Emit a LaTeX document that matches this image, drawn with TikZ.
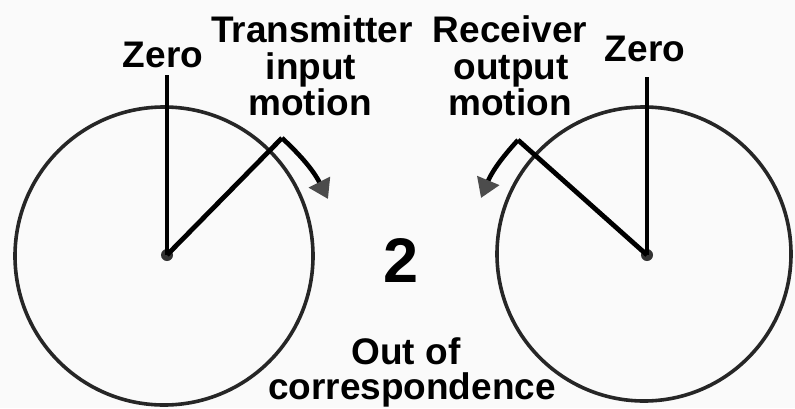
\documentclass[tikz,border=0pt]{standalone}
\usepackage{fontspec}
\setmainfont{Liberation Sans}
\usetikzlibrary{arrows.meta}
\begin{document}
\begin{tikzpicture}[x=1pt,y=-1pt,
  lbl/.style={font=\bfseries\fontsize{37}{37}\selectfont, anchor=base, inner sep=0pt},
  big/.style={font=\bfseries\fontsize{63}{63}\selectfont, inner sep=0pt},
  dial/.style={line width=3.6pt, draw=black!85},
  hand/.style={line width=4.8pt, line join=miter, line cap=butt},
  hub/.style={circle, fill=black!80, minimum size=12pt, inner sep=0pt},
  motion/.style={line width=4.6pt, -{Triangle[length=19pt,width=23pt,color=black!70]}}]
\useasboundingbox[fill=black!2] (0,0) rectangle (795,408);

% dials
\draw[dial] (164,256) circle[radius=149];
\draw[dial] (644,254) circle[radius=147];

% hubs
\node[hub] (hubL) at (167,255) {};
\node[hub] (hubR) at (647,255) {};

% coordinates
\coordinate (zeroLtop) at (167,75);
\coordinate (zeroRtop) at (647,77);
\coordinate (cornL) at (282,138);
\coordinate (tipL) at (328,199);
\coordinate (cornR) at (518,140);
\coordinate (tipR) at (481,198);

% zero lines
\draw[hand] (hubL.center) -- (zeroLtop);
\draw[hand] (hubR.center) -- (zeroRtop);

% motion hands
\draw[hand] (hubL.center) -- (cornL);
\draw[motion] (cornL) to[bend left=10] (tipL);
\draw[hand] (hubR.center) -- (cornR);
\draw[motion] (cornR) to[bend right=10] (tipR);

% labels
\node[lbl] (zL) at (163,67) {Zero};
\node[lbl] (zR) at (645,61) {Zero};
\node[lbl] (t1) at (312,42) {Transmitter};
\node[lbl] (t2) at (311,79) {input};
\node[lbl] (t3) at (310,115) {motion};
\node[lbl] (r1) at (510,42) {Receiver};
\node[lbl] (r2) at (511,79) {output};
\node[lbl] (r3) at (510,115) {motion};
\node[big] (two) at (401,260) {2};
\node[lbl] (o1) at (406,364) {Out of};
\node[lbl] (o2) at (412,399) {correspondence};
\end{tikzpicture}
\end{document}
